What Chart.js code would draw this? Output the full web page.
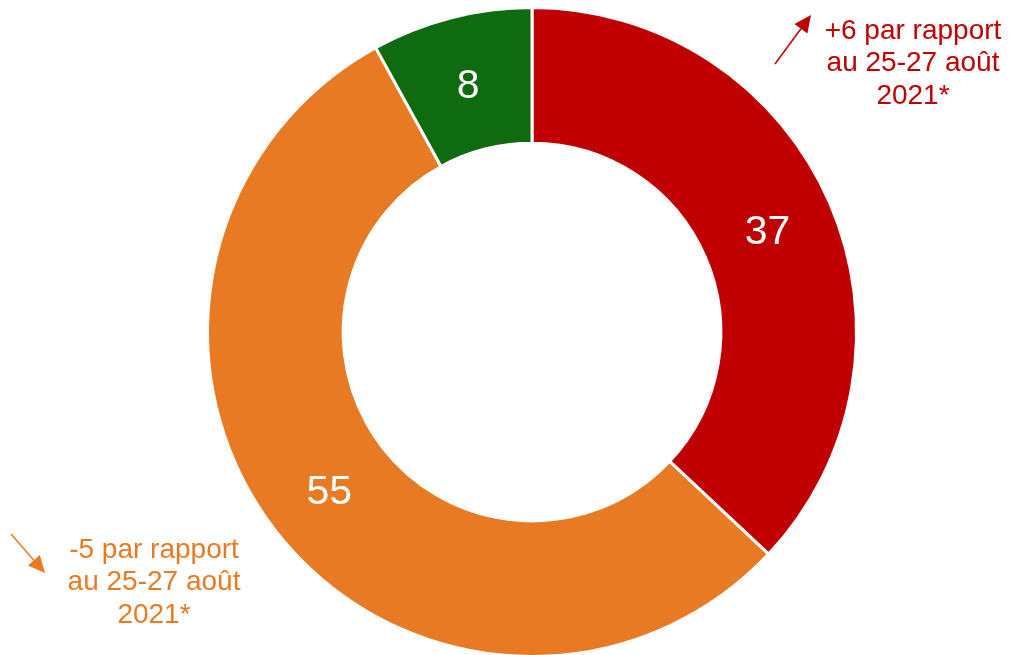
<!DOCTYPE html>
<html>
<head>
<meta charset="utf-8">
<script src="https://cdn.jsdelivr.net/npm/chart.js@4"></script>
<style>
  html, body { margin: 0; padding: 0; background: #fff; overflow: hidden; }
  #wrap { width: 1009px; height: 661px; position: relative; }
</style>
</head>
<body>
<div id="wrap"><canvas id="chart"></canvas></div>
<script>
const labels = ['Rouge', 'Orange', 'Vert'];
const values = [37, 55, 8];
const colors = ['#C00000', '#E87A24', '#0E6B10'];

// notes next to the ring
const notes = [
    {lines: ['+6 par rapport', 'au 25-27 août', '2021*'], color: '#C00000', x: 913, y: 31,
        arrow: [775, 64, 811, 15]},
    {lines: ['-5 par rapport', 'au 25-27 août', '2021*'], color: '#E87A24', x: 154, y: 550,
        arrow: [11, 534, 45, 573]}
];

function drawArrow(ctx, x1, y1, x2, y2, color) {
    const a = Math.atan2(y2 - y1, x2 - x1);
    const len = 17, w = 8;
    ctx.save();
    ctx.strokeStyle = color;
    ctx.fillStyle = color;
    ctx.lineWidth = 1.5;
    ctx.beginPath();
    ctx.moveTo(x1, y1);
    ctx.lineTo(x2 - Math.cos(a) * len, y2 - Math.sin(a) * len);
    ctx.stroke();
    ctx.beginPath();
    ctx.moveTo(x2, y2);
    ctx.lineTo(x2 - Math.cos(a) * len - Math.sin(a) * w, y2 - Math.sin(a) * len + Math.cos(a) * w);
    ctx.lineTo(x2 - Math.cos(a) * len + Math.sin(a) * w, y2 - Math.sin(a) * len - Math.cos(a) * w);
    ctx.closePath();
    ctx.fill();
    ctx.restore();
}

const labelPlugin = {
    id: 'sliceLabels',
    afterDatasetsDraw(chart) {
        const ctx = chart.ctx;
        const meta = chart.getDatasetMeta(0);
        ctx.save();
        ctx.fillStyle = '#fff';
        ctx.font = '41px "Liberation Sans", Arial, sans-serif';
        ctx.textAlign = 'center';
        ctx.textBaseline = 'middle';
        meta.data.forEach((arc, i) => {
            const p = arc.getCenterPoint();
            ctx.fillText(values[i], p.x, p.y + 3);
        });
        ctx.restore();
    },
    afterDraw(chart) {
        const ctx = chart.ctx;
        notes.forEach(n => {
            ctx.save();
            ctx.fillStyle = n.color;
            ctx.font = '28px "Liberation Sans", Arial, sans-serif';
            ctx.textAlign = 'center';
            ctx.textBaseline = 'middle';
            n.lines.forEach((l, i) => ctx.fillText(l, n.x, n.y + i * 32.5));
            ctx.restore();
            drawArrow(ctx, n.arrow[0], n.arrow[1], n.arrow[2], n.arrow[3], n.color);
        });
    }
};

new Chart(document.getElementById('chart'), {
    type: 'doughnut',
    data: {
        labels: labels,
        datasets: [{
            data: values,
            backgroundColor: colors,
            borderColor: '#fff',
            borderWidth: 3
        }]
    },
    options: {
        responsive: true,
        maintainAspectRatio: false,
        animation: false,
        cutout: '58.2%',
        layout: {padding: {left: 206, right: 151, top: 6, bottom: 3}},
        plugins: {
            legend: {display: false},
            tooltip: {enabled: false}
        }
    },
    plugins: [labelPlugin]
});
</script>
</body>
</html>
